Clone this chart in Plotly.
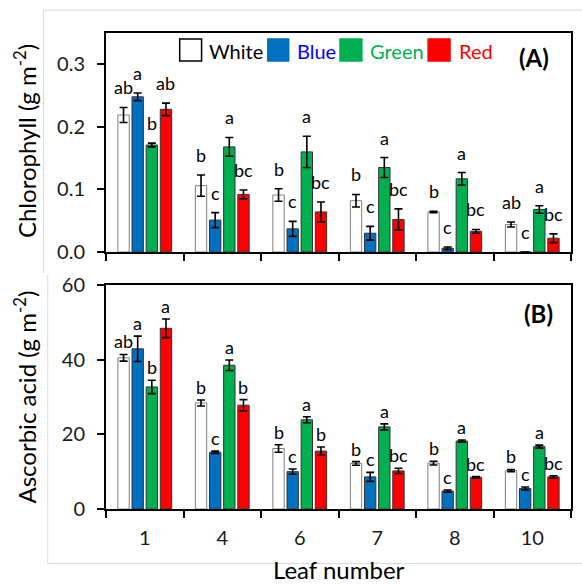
import plotly.graph_objects as go

# ---------------- data ----------------
categories = ["1", "4", "6", "7", "8", "10"]
series_names = ["White", "Blue", "Green", "Red"]

chl_white = [0.219, 0.106, 0.091, 0.082, 0.064, 0.044]
chl_white_err = [0.012, 0.017, 0.010, 0.010, 0.001, 0.004]
chl_blue = [0.248, 0.051, 0.037, 0.030, 0.006, 0.0]
chl_blue_err = [0.006, 0.012, 0.012, 0.011, 0.002, 0.0]
chl_green = [0.171, 0.168, 0.160, 0.135, 0.117, 0.068]
chl_green_err = [0.003, 0.015, 0.025, 0.016, 0.010, 0.006]
chl_red = [0.228, 0.092, 0.064, 0.052, 0.033, 0.022]
chl_red_err = [0.010, 0.007, 0.016, 0.017, 0.003, 0.007]

chl_white_letters = ["ab", "b", "b", "b", "b", "ab"]
chl_blue_letters = ["a", "c", "c", "c", "c", "c"]
chl_green_letters = ["b", "a", "a", "a", "a", "a"]
chl_red_letters = ["ab", "bc", "bc", "bc", "bc", "bc"]

asc_white = [40.5, 28.4, 16.2, 12.2, 12.3, 10.3]
asc_white_err = [0.9, 0.8, 1.0, 0.5, 0.5, 0.3]
asc_blue = [42.9, 15.2, 10.0, 8.6, 4.8, 5.5]
asc_blue_err = [3.4, 0.3, 0.7, 1.2, 0.3, 0.4]
asc_green = [32.7, 38.5, 23.9, 22.0, 18.2, 16.7]
asc_green_err = [1.8, 1.4, 0.8, 0.8, 0.3, 0.4]
asc_red = [48.4, 27.8, 15.5, 10.2, 8.5, 8.6]
asc_red_err = [2.5, 1.5, 1.1, 0.7, 0.2, 0.3]

asc_white_letters = ["ab", "b", "b", "b", "b", "b"]
asc_blue_letters = ["a", "c", "c", "c", "c", "c"]
asc_green_letters = ["b", "a", "a", "a", "a", "a"]
asc_red_letters = ["a", "b", "b", "bc", "bc", "bc"]

chl_ticks = [0.0, 0.1, 0.2, 0.3]
asc_ticks = [0, 20, 40, 60]

# ---------------- styles ----------------
FONT = "Lato"
fill_colors = ["#FFFFFF", "#0070C0", "#00B050", "#FF0000"]
line_colors = ["#7F7F7F", "#333333", "#333333", "#333333"]
text_colors = ["#000000", "#0000FF", "#00B050", "#FF0000"]
TICKCOL = "#1a1a1a"

BARGAP = 0.27
BARGROUPGAP = 0.197

chl_vals = [chl_white, chl_blue, chl_green, chl_red]
chl_errs = [chl_white_err, chl_blue_err, chl_green_err, chl_red_err]
chl_lets = [chl_white_letters, chl_blue_letters, chl_green_letters, chl_red_letters]
asc_vals = [asc_white, asc_blue, asc_green, asc_red]
asc_errs = [asc_white_err, asc_blue_err, asc_green_err, asc_red_err]
asc_lets = [asc_white_letters, asc_blue_letters, asc_green_letters, asc_red_letters]

fig = go.Figure()

for i, name in enumerate(series_names):
    fig.add_trace(go.Bar(
        x=categories, y=chl_vals[i], name=name, xaxis="x", yaxis="y",
        marker=dict(color=fill_colors[i], line=dict(color=line_colors[i], width=1)),
        error_y=dict(type="data", array=chl_errs[i], visible=True,
                     color="black", thickness=1.6, width=4),
        offsetgroup=str(i), showlegend=False))
    fig.add_trace(go.Bar(
        x=categories, y=asc_vals[i], name=name, xaxis="x2", yaxis="y2",
        marker=dict(color=fill_colors[i], line=dict(color=line_colors[i], width=1)),
        error_y=dict(type="data", array=asc_errs[i], visible=True,
                     color="black", thickness=1.6, width=4),
        offsetgroup=str(i), showlegend=False))

annotations = []
slot = (1 - BARGAP) / len(series_names)
n = len(series_names)
for i in range(n):
    off = (i - (n - 1) / 2) * slot
    for j in range(len(categories)):
        annotations.append(dict(
            x=j + off, y=chl_vals[i][j] + chl_errs[i][j], xref="x", yref="y",
            text=chl_lets[i][j], showarrow=False, xanchor="center", yanchor="bottom", yshift=7,
            font=dict(family=FONT, size=18, color="black")))
        annotations.append(dict(
            x=j + off, y=asc_vals[i][j] + asc_errs[i][j], xref="x2", yref="y2",
            text=asc_lets[i][j], showarrow=False, xanchor="center", yanchor="bottom", yshift=0,
            font=dict(family=FONT, size=18, color="black")))

# panel A legend (manual, Excel-like large swatches)
legend_box_px = [(180, 202), (268.5, 289.5), (341, 363), (429.5, 451.5)]
legend_text_px = [207.5, 296, 369.3, 458.3]
PL, PW = 106, 467
shapes = []
for i, name in enumerate(series_names):
    x0 = (legend_box_px[i][0] - PL) / PW
    x1 = (legend_box_px[i][1] - PL) / PW
    shapes.append(dict(type="rect", xref="x domain", yref="y domain",
                       x0=x0, x1=x1, y0=(252 - 61) / 219, y1=(252 - 39) / 219,
                       fillcolor=fill_colors[i],
                       line=dict(color="black" if i == 0 else fill_colors[i], width=1.5)))
    annotations.append(dict(x=(legend_text_px[i] - PL) / PW, y=(252 - 50.6) / 219,
                            xref="x domain", yref="y domain", xanchor="left", yanchor="middle",
                            text=name, showarrow=False,
                            font=dict(family=FONT, size=20, color=text_colors[i])))

annotations.append(dict(x=0.921, y=0.886, xref="x domain", yref="y domain",
                        xanchor="center", yanchor="middle",
                        text="<b>(A)</b>", showarrow=False,
                        font=dict(family=FONT, size=24, color="black")))
annotations.append(dict(x=0.931, y=0.875, xref="x2 domain", yref="y2 domain",
                        xanchor="center", yanchor="middle",
                        text="<b>(B)</b>", showarrow=False,
                        font=dict(family=FONT, size=24, color="black")))

# axis titles
annotations.append(dict(x=(24.2 - PL) / PW, y=(509 - 141.5) / 476, xref="paper", yref="paper",
                        xanchor="center", yanchor="middle",
                        text="Chlorophyll (g m<sup>-2</sup>)", textangle=-90, showarrow=False,
                        font=dict(family=FONT, size=24, color="black")))
annotations.append(dict(x=(24.2 - PL) / PW, y=(509 - 397) / 476, xref="paper", yref="paper",
                        xanchor="center", yanchor="middle",
                        text="Ascorbic acid (g m<sup>-2</sup>)", textangle=-90, showarrow=False,
                        font=dict(family=FONT, size=24, color="black")))
annotations.append(dict(x=0.5, y=(509 - 569.5) / 476, xref="paper", yref="paper",
                        xanchor="center", yanchor="middle",
                        text="Leaf number", showarrow=False,
                        font=dict(family=FONT, size=24, color="black")))

# faint chart-area frames
GREY = "#d9d9d9"
def px_x(p):
    return (p - PL) / PW
def px_y(p):
    return (509 - p) / 476
shapes += [
    dict(type="line", xref="paper", yref="paper", x0=px_x(43.3), x1=px_x(43.3),
         y0=px_y(10), y1=px_y(273), line=dict(color=GREY, width=1)),
    dict(type="line", xref="paper", yref="paper", x0=px_x(43.3), x1=px_x(590),
         y0=px_y(10), y1=px_y(10), line=dict(color=GREY, width=1)),
    dict(type="line", xref="paper", yref="paper", x0=px_x(47.5), x1=px_x(47.5),
         y0=px_y(275), y1=px_y(563.5), line=dict(color=GREY, width=1)),
    dict(type="line", xref="paper", yref="paper", x0=px_x(47.5), x1=px_x(590),
         y0=px_y(563.5), y1=px_y(563.5), line=dict(color=GREY, width=1)),
]

axis_common = dict(showline=True, linecolor="black", linewidth=2, mirror=True,
                   ticks="outside", ticklen=7, tickwidth=1.5, tickcolor="black",
                   showgrid=False, zeroline=False,
                   tickfont=dict(family=FONT, size=20, color=TICKCOL))

fig.update_layout(
    width=582, height=585,
    margin=dict(l=106, r=9, t=33, b=76),
    paper_bgcolor="white", plot_bgcolor="white",
    barmode="group", bargap=BARGAP, bargroupgap=BARGROUPGAP,
    showlegend=False,
    font=dict(family=FONT, color="black"),
    xaxis=dict(domain=[0, 1], anchor="y", type="category", categoryorder="array",
               categoryarray=categories, range=[-0.5, len(categories) - 0.5],
               tickson="boundaries", showticklabels=False, **axis_common),
    yaxis=dict(domain=[(509 - 252) / 476, 1], anchor="x", range=[0, 0.35],
               tickvals=chl_ticks, tickformat=".1f", ticklabelstandoff=8, **axis_common),
    xaxis2=dict(domain=[0, 1], anchor="y2", type="category", categoryorder="array",
                categoryarray=categories, range=[-0.5, len(categories) - 0.5],
                tickson="boundaries", ticklabelstandoff=10, **axis_common),
    yaxis2=dict(domain=[0, (509 - 285) / 476], anchor="x2", range=[0, 60],
                tickvals=asc_ticks, ticklabelstandoff=8, **axis_common),
    annotations=annotations,
    shapes=shapes,
)

fig.write_html("out.html", config={"displayModeBar": False},
               post_script="document.body.style.margin='0px';document.body.style.padding='0px';")
